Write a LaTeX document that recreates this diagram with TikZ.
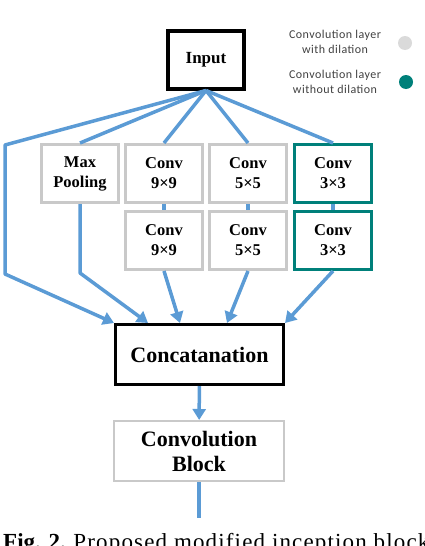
\documentclass[tikz,border=0pt]{standalone}
\usepackage{fontspec}
\setmainfont{Liberation Serif}
\newfontfamily\legendfont{Carlito}[LetterSpace=4]
\usetikzlibrary{arrows.meta, calc}
\definecolor{linkblue}{HTML}{5B9BD5}
\definecolor{boxgray}{HTML}{C9C9C9}
\definecolor{dilteal}{HTML}{00807A}
\definecolor{dotgray}{HTML}{DADADA}

\begin{document}
\begin{tikzpicture}[x=1pt, y=-1pt,
    blk/.style={draw, line width=3pt, align=center, inner sep=0pt, minimum width=77pt, minimum height=58pt,
                font=\fontsize{16.5}{20}\selectfont\bfseries},
    graybox/.style={blk, draw=boxgray},
    tealbox/.style={blk, draw=dilteal},
    legend/.style={align=center, text=black!75, font=\legendfont\fontsize{12}{15}\selectfont},
    dot/.style={circle, inner sep=0pt, minimum size=14pt},
    link/.style={linkblue, line width=3.5pt, line join=round},
    flow/.style={link, -{Triangle[length=11pt, width=13pt]}}]
    \useasboundingbox (0,0) rectangle (424,546);

    % boxes
    \node[blk, draw=black, line width=4pt, minimum width=76pt, font=\fontsize{17}{20}\selectfont\bfseries] (input) at (206,59.5) {Input};
    \node[graybox] (pool) at (80,173.5) {Max\\Pooling};
    \foreach \n/\x/\y/\t in {c9a/164/173.5/9×9, c5a/248/173.5/5×5, c9b/164/240.5/9×9, c5b/248/240.5/5×5} {
        \node[graybox] (\n) at (\x,\y) {Conv\\\t};
    }
    \node[tealbox] (c3a) at (333,173.5) {Conv\\3×3};
    \node[tealbox] (c3b) at (333,240.5) {Conv\\3×3};
    \node[blk, draw=black, minimum width=168pt, minimum height=60pt, font=\fontsize{22}{26}\selectfont\bfseries] (concat) at (199.5,354.5) {Concatanation};
    \node[blk, draw=boxgray, line width=2pt, minimum width=170pt, minimum height=60pt, font=\fontsize{22}{25}\selectfont\bfseries] (convblock) at (199,451) {Convolution\\Block};

    % legend
    \node[legend] (dillabel) at (335,42) {Convolution layer\\with dilation};
    \node[dot, fill=dotgray] (dildot) at (405,43) {};
    \node[legend] (nodillabel) at (335,82) {Convolution layer\\without dilation};
    \node[dot, fill=dilteal] (nodildot) at (406,82) {};

    % connectors
    \coordinate (lefttop) at (5,145);
    \coordinate (leftbot) at (5,274);
    \coordinate (poolbend) at (80,273);
    \coordinate (outend) at (199,518);
    \draw[flow] (input.south) -- (lefttop) -- (leftbot) -- (concat.north west);
    \draw[link] (input.south) -- (pool.north);
    \draw[flow] (pool.south) -- (poolbend) -- ([xshift=34pt]concat.north west);
    \foreach \a/\b/\dx in {c9a/c9b/66, c5a/c5b/113, c3a/c3b/171} {
        \draw[link] (input.south) -- (\a.north);
        \draw[link] (\a) -- (\b);
        \draw[flow] (\b.south) -- ([xshift=\dx pt]concat.north west);
    }
    \draw[flow] (concat) -- (convblock);
    \draw[link] (convblock) -- (outend);

    \node[anchor=base west, inner sep=0pt, font=\fontsize{23}{26}\selectfont] (caption) at (3,549)
        {\textbf{Fig. 2.} \addfontfeatures{LetterSpace=5}Proposed modified inception block};
\end{tikzpicture}
\end{document}
